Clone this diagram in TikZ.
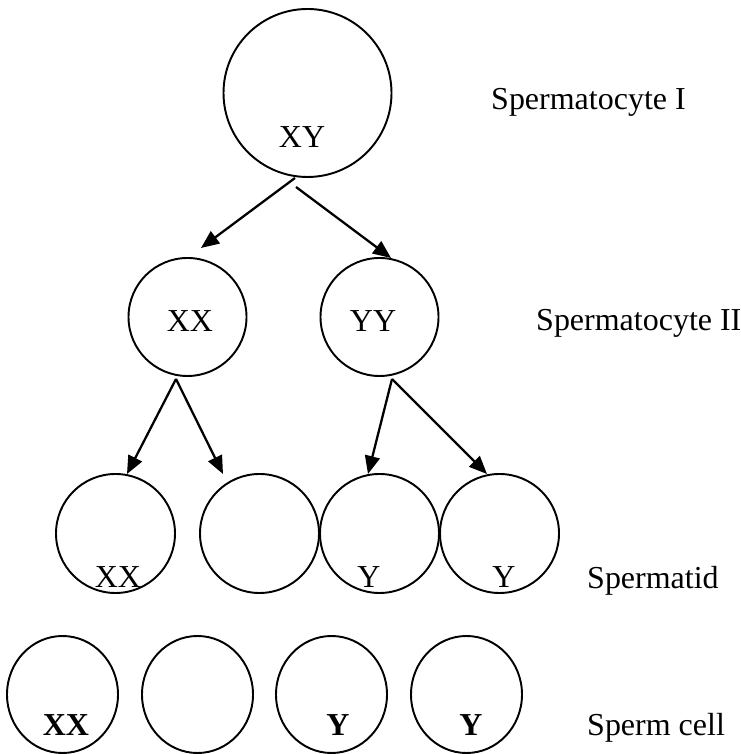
\documentclass[tikz,border=0pt]{standalone}
\usepackage{fontspec}
\setmainfont{Liberation Serif}
\usetikzlibrary{arrows.meta, positioning, shapes.geometric}

\begin{document}
\begin{tikzpicture}[
  cell/.style={draw, circle, line width=1.1pt, inner sep=0pt},
  sperm/.style={draw, ellipse, line width=1.1pt, inner sep=0pt, minimum width=2.22cm, minimum height=2.34cm},
  split/.style={line width=1.3pt, -{Triangle[length=0.36cm,width=0.3cm]}},
  txt/.style={anchor=base, font=\fontsize{18.2}{22}\selectfont},
  lbl/.style={anchor=base west, font=\fontsize{18.2}{22}\selectfont}
]
\useasboundingbox (0,0) rectangle (14.82,15.08);

% Spermatocyte I
\node[cell, minimum size=3.36cm] (sa) at (6.15,13.22) {};
\node[txt] (saxy) at (6.04,12.12) {XY};
\node[lbl] (lsa) at (9.70,12.88) {Spermatocyte I};

% Spermatocyte II
\node[cell, minimum size=2.36cm] (sbl) at (3.75,8.74) {};
\node[cell, minimum size=2.36cm] (sbr) at (7.59,8.74) {};
\node[txt] (sbxx) at (3.80,8.44) {XX};
\node[txt] (sbyy) at (7.46,8.44) {YY};
\node[lbl] (lsb) at (10.60,8.46) {Spermatocyte II};

% Spermatid
\node[cell, minimum size=2.38cm] (t1) at (2.31,4.41) {};
\node[cell, minimum size=2.38cm] (t2) at (5.19,4.41) {};
\node[cell, minimum size=2.38cm] (t3) at (7.59,4.41) {};
\node[cell, minimum size=2.38cm] (t4) at (9.99,4.41) {};
\node[txt] (t1x) at (2.36,3.32) {XX};
\node[txt] (t3y) at (7.38,3.32) {Y};
\node[txt] (t4y) at (10.08,3.32) {Y};
\node[lbl] (lt) at (11.62,3.30) {Spermatid};

% Sperm cell
\node[sperm] (s1) at (1.25,1.19) {};
\node[sperm] (s2) at (3.95,1.19) {};
\node[sperm] (s3) at (6.63,1.19) {};
\node[sperm] (s4) at (9.33,1.19) {};
\node[txt] (s1x) at (1.32,0.36) {\textbf{XX}};
\node[txt] (s3y) at (6.76,0.36) {\textbf{Y}};
\node[txt] (s4y) at (9.42,0.36) {\textbf{Y}};
\node[lbl] (ls) at (11.62,0.36) {Sperm cell};

% arrow ends
\coordinate (oa1) at (5.90,11.52);
\coordinate (oa2) at (5.92,11.34);
\coordinate (ia1) at (4.02,10.12);
\coordinate (ia2) at (7.82,9.92);
\coordinate (obl) at (3.52,7.50);
\coordinate (obr) at (7.84,7.50);
\coordinate (it1) at (2.54,5.60);
\coordinate (it2) at (4.46,5.60);
\coordinate (it3) at (7.36,5.60);
\coordinate (it4) at (9.74,5.60);

\draw[split] (oa1) -- (ia1);
\draw[split] (oa2) -- (ia2);
\draw[split] (obl) -- (it1);
\draw[split] (obl) -- (it2);
\draw[split] (obr) -- (it3);
\draw[split] (obr) -- (it4);
\end{tikzpicture}
\end{document}
